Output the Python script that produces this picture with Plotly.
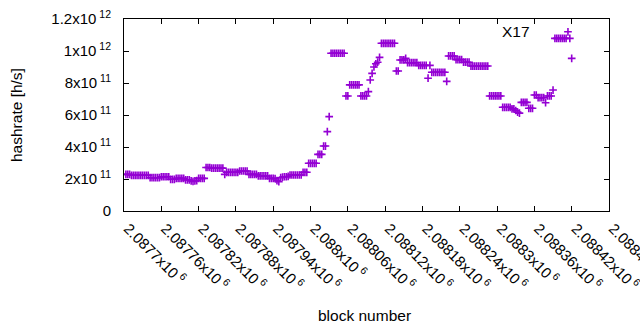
import plotly.graph_objects as go

# block numbers (every third block) and hashrate estimates in units of 1e9 h/s
blocks = list(range(2087703, 2088421, 3))
hashrate_g = [
    229, 229, 229,
    223, 223, 223, 223, 223, 223, 223, 223, 223, 223,
    208, 208, 208, 208, 208, 208,
    214, 214, 214, 214, 214,
    198, 198, 198,
    204, 204, 204, 204, 204,
    194, 194, 194,
    188, 185, 188, 190,
    204, 204, 204, 204,
    272, 272, 272, 268, 268, 268, 268, 268, 268, 268,
    229, 242, 242, 242, 242, 242, 242, 242,
    250, 250, 250, 250, 250,
    229, 229, 229, 229, 229,
    219, 219, 219, 219, 219, 219,
    204, 204, 204, 202, 190, 183,
    208, 212, 214, 214, 216,
    225, 225, 225, 225, 225, 225, 225,
    242, 242, 242,
    298, 298, 298, 298, 298,
    354, 354, 354,
    406, 406,
    496,
    590,
    986, 986, 986, 986, 986, 986, 986, 986,
    719, 719,
    788, 788, 788, 788, 788, 788,
    719, 719, 719, 719,
    746, 819, 860, 900, 920, 930, 960,
    1048, 1048, 1048, 1048, 1048, 1048, 1048, 1048,
    875, 875,
    944, 944, 944,
    954,
    927, 927, 927, 927, 927, 927,
    910, 910, 910, 910, 910,
    830,
    910,
    867, 867, 867, 867, 867, 867, 867, 867,
    810,
    969, 969, 969, 969,
    946, 946, 946, 946,
    930, 930, 930, 930,
    906, 906, 906, 906, 906, 906, 906, 906, 906, 906,
    719, 719, 719, 719, 719, 719, 719,
    648, 648, 648, 648, 648,
    638, 638,
    628, 618, 612,
    679, 679, 679, 679,
    642, 642, 642,
    725, 725,
    708, 708, 708, 708,
    677,
    719, 719, 719,
    756,
    1079, 1079, 1079, 1079, 1079, 1079, 1079,
    1120,
    1079,
    954,
]
hashrate = [v * 1e9 for v in hashrate_g]

x_tickvals = [2087700, 2087760, 2087820, 2087880, 2087940, 2088000, 2088060,
              2088120, 2088180, 2088240, 2088300, 2088360, 2088420, 2088480]
x_ticktext = ["2.0877", "2.08776", "2.08782", "2.08788", "2.08794", "2.088",
              "2.08806", "2.08812", "2.08818", "2.08824", "2.0883", "2.08836",
              "2.08842", "2.08848"]
y_tickvals = [0, 2e11, 4e11, 6e11, 8e11, 1e12, 1.2e12]
y_ticktext = ["0", "2x10<sup> 11</sup>", "4x10<sup> 11</sup>", "6x10<sup> 11</sup>",
              "8x10<sup> 11</sup>", "1x10<sup> 12</sup>", "1.2x10<sup> 12</sup>"]

COLOR = "#9400d3"
FONT = "Liberation Sans, Arial, sans-serif"

W, H = 640, 330
L, R, T, B = 124, 31, 19, 119
pw, ph = W - L - R, H - T - B


def px_to_paper(px, py):
    return (px - L) / pw, (H - B - py) / ph


fig = go.Figure()
fig.add_trace(go.Scatter(
    x=blocks[:len(hashrate)], y=hashrate, mode="markers",
    marker=dict(symbol="cross-thin", size=5.5, color=COLOR,
                line=dict(width=1.6, color=COLOR)),
    showlegend=False, cliponaxis=True, hoverinfo="skip",
))

axis_common = dict(
    showline=True, linecolor="black", linewidth=1, mirror="allticks",
    ticks="inside", ticklen=5, tickcolor="black", tickwidth=1,
    showgrid=False, zeroline=False,
    tickfont=dict(family=FONT, size=15, color="black"),
)
fig.update_xaxes(range=[2087700, 2088480], tickmode="array", tickvals=x_tickvals,
                 ticktext=[t + "x10<sup> 6</sup>" for t in x_ticktext],
                 tickangle=45, ticklabeloverflow="allow", ticklabelstandoff=2,
                 ticklabelshift=4, **axis_common)
fig.update_yaxes(range=[0, 1.2e12], tickmode="array", tickvals=y_tickvals,
                 ticktext=y_ticktext, ticklabelstandoff=9, **axis_common)

ax, ay = px_to_paper(16, 115)
bx, by = px_to_paper(364, 315)
cx, cy = px_to_paper(532, 31)
fig.update_layout(
    width=W, height=H,
    margin=dict(l=L, r=R, t=T, b=B, autoexpand=False),
    paper_bgcolor="white", plot_bgcolor="white",
    font=dict(family=FONT, size=15, color="black"),
    annotations=[
        dict(text="hashrate [h/s]", x=ax, y=ay, xref="paper", yref="paper",
             xanchor="center", yanchor="middle",
             showarrow=False, textangle=-90, font=dict(size=15.5)),
        dict(text="block number", x=bx, y=by, xref="paper", yref="paper",
             xanchor="center", yanchor="middle",
             showarrow=False, font=dict(size=15.5)),
        dict(text="X17", x=cx, y=cy, xref="paper", yref="paper",
             xanchor="right", yanchor="middle",
             showarrow=False, font=dict(size=15.5)),
    ],
)

fig.write_html("out.html", config={"displayModeBar": False},
               post_script="document.body.style.margin='0';document.body.style.padding='0';")
